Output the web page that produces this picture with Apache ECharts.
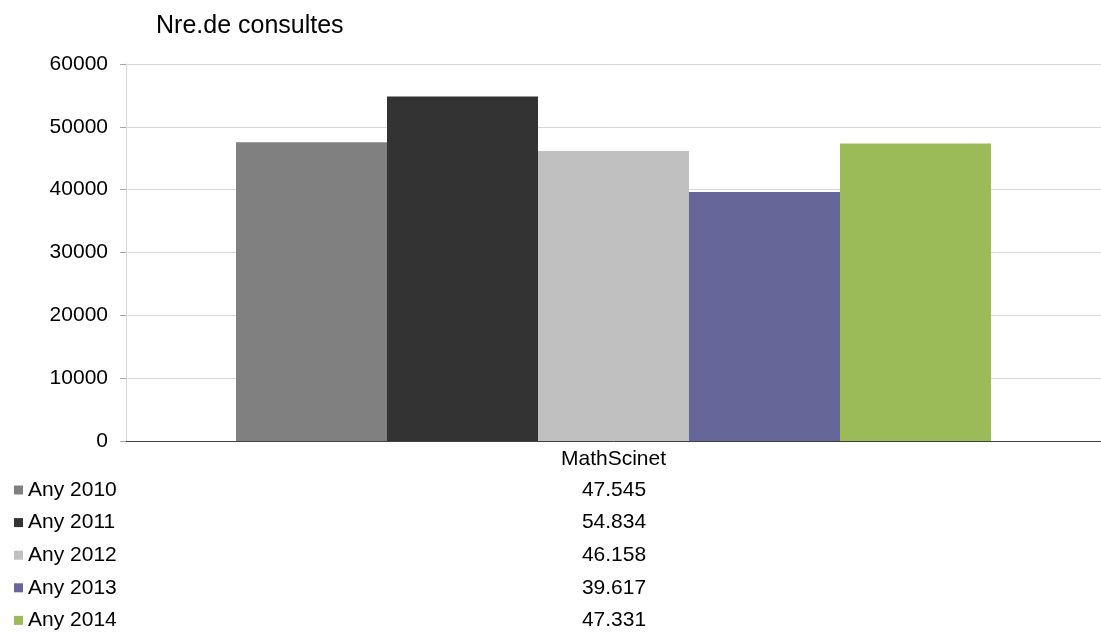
<!DOCTYPE html>
<html><head><meta charset="utf-8">
<script src="https://cdn.jsdelivr.net/npm/echarts@6/dist/echarts.min.js"></script>
<style>html,body{margin:0;padding:0;background:#fff}#c{width:1101px;height:633px}</style>
</head><body><div id="c"></div>
<script>
var categories = ['MathScinet'];
var seriesNames = ['Any 2010', 'Any 2011', 'Any 2012', 'Any 2013', 'Any 2014'];
var seriesValues = [47545, 54834, 46158, 39617, 47331];
var colors = ['#808080', '#333333', '#c0c0c0', '#666699', '#9bbb59'];
var yTicks = [0, 10000, 20000, 30000, 40000, 50000, 60000];

var font = 'Liberation Sans, Arial, sans-serif';
var fs = 21;
function fmt(v){ return String(v).replace(/\B(?=(\d{3})+(?!\d))/g, '.'); }

var chart = echarts.init(document.getElementById('c'));
var rowCenter0 = 490, rowStep = 32.6;
var graphics = seriesValues.map(function(v, i){
  return { type: 'text', x: 614, y: rowCenter0 + i*rowStep,
    style: { text: fmt(v), font: fs + 'px ' + font, fill: '#000',
      textAlign: 'center', textVerticalAlign: 'middle' } };
});
chart.setOption({
  animation: false,
  color: colors,
  title: { text: 'Nre.de consultes', left: 151, top: 9,
    textStyle: { fontFamily: font, fontSize: 25, fontWeight: 'normal', color: '#000' } },
  grid: { left: 126, right: 0, top: 64, height: 377 },
  legend: { orient: 'vertical', left: 14, top: 490 - fs/2, height: 200, padding: 0,
    itemGap: rowStep - fs, itemWidth: 9, itemHeight: 9, icon: 'rect',
    textStyle: { fontFamily: font, fontSize: fs, lineHeight: fs, color: '#000' },
    data: seriesNames },
  xAxis: { type: 'category', data: categories,
    axisLine: { lineStyle: { color: '#404040', width: 1 } },
    axisTick: { show: false },
    axisLabel: { fontFamily: font, fontSize: fs, color: '#000', margin: 8 } },
  yAxis: { type: 'value', min: yTicks[0], max: yTicks[yTicks.length-1], interval: 10000,
    axisLine: { show: true, lineStyle: { color: '#d9d9d9' } },
    axisTick: { show: true, length: 6, lineStyle: { color: '#a6a6a6' } },
    splitLine: { lineStyle: { color: '#d9d9d9' } },
    axisLabel: { fontFamily: font, fontSize: fs, color: '#000', margin: 18,
      formatter: function(v){ return String(v); } } },
  graphic: graphics,
  series: seriesNames.map(function(n, i){
    return { name: n, type: 'bar', barWidth: 151, barGap: '0%',
      data: [seriesValues[i]], itemStyle: { color: colors[i] } };
  })
});
</script></body></html>
